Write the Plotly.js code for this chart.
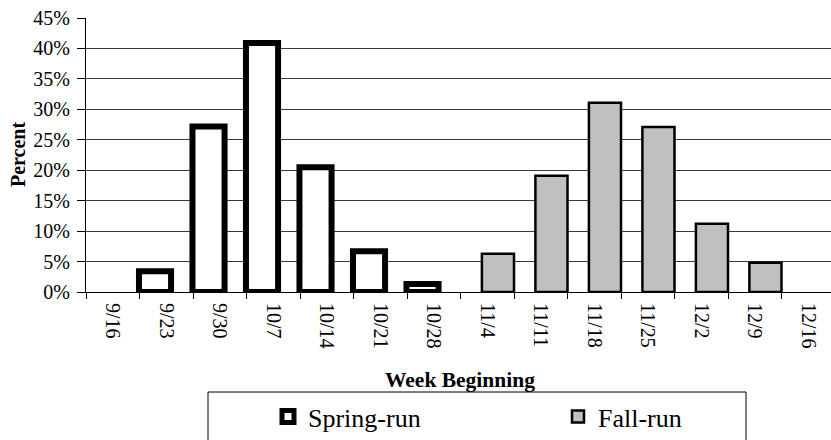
<!DOCTYPE html>
<html>
<head>
<meta charset="utf-8">
<script src="https://cdn.plot.ly/plotly-3.0.1.min.js"></script>
<style>
  html, body { margin: 0; padding: 0; background: #fff; }
  #chart { width: 831px; height: 440px; }
</style>
</head>
<body>
<div id="chart"></div>
<script>
const weeks = ["9/16", "9/23", "9/30", "10/7", "10/14", "10/21", "10/28", "11/4", "11/11", "11/18", "11/25", "12/2", "12/9", "12/16"];
const springRun = [null, 3.4, 27.2, 40.9, 20.5, 6.7, 1.3, null, null, null, null, null, null, null];
const fallRun = [null, null, null, null, null, null, null, 6.3, 19.1, 31.1, 27.1, 11.2, 4.8, null];
const yTicks = [0, 5, 10, 15, 20, 25, 30, 35, 40, 45];

const FONT = "Liberation Serif";

const traces = [
  {
    type: "bar", name: "Spring-run", x: weeks, y: springRun,
    width: 0.6, offset: -0.51,
    marker: { color: "#ffffff", line: { color: "#000000", width: 6 } },
    hoverinfo: "skip"
  },
  {
    type: "bar", name: "Fall-run", x: weeks, y: fallRun,
    width: 0.6, offset: -0.1,
    marker: { color: "#c0c0c0", line: { color: "#000000", width: 2.5 } },
    hoverinfo: "skip"
  }
];

const layout = {
  width: 831, height: 440,
  margin: { l: 86, r: 0, t: 18, b: 148, pad: 0, autoexpand: false },
  paper_bgcolor: "#ffffff", plot_bgcolor: "#ffffff",
  font: { family: FONT, size: 20, color: "#000" },
  barmode: "overlay",
  showlegend: true,
  legend: {
    orientation: "h",
    x: (268 - 86) / 745, xanchor: "left",
    y: (292 - 393) / 274, yanchor: "top",
    font: { family: FONT, size: 26, color: "#000" },
    bgcolor: "rgba(0,0,0,0)", borderwidth: 0,
    entrywidth: 245, entrywidthmode: "pixels",
    traceorder: "normal"
  },
  xaxis: {
    type: "category",
    categoryorder: "array", categoryarray: weeks,
    range: [-0.5, -0.5 + 745 / 53.5],
    tickangle: 90,
    tickson: "boundaries",
    ticks: "outside", ticklen: 6, tickcolor: "#000", tickwidth: 1,
    ticklabelstandoff: 6,
    showline: true, linecolor: "#000", linewidth: 1,
    showgrid: false, zeroline: false,
    tickfont: { family: FONT, size: 20, color: "#000" },
    fixedrange: true
  },
  yaxis: {
    range: [0, 45],
    tickvals: yTicks,
    ticktext: yTicks.map(v => v + "%"),
    ticks: "outside", ticklen: 8, tickcolor: "#000", tickwidth: 1,
    ticklabelstandoff: 3,
    showline: true, linecolor: "#000", linewidth: 1,
    showgrid: true, gridcolor: "#3a3a3a", gridwidth: 1,
    zeroline: false,
    tickfont: { family: FONT, size: 20, color: "#000" },
    fixedrange: true
  },
  annotations: [
    {
      text: "<b>Percent</b>", xref: "paper", yref: "paper",
      x: 0, xshift: -68, y: 0.5, xanchor: "center", yanchor: "middle",
      textangle: -90, showarrow: false,
      font: { family: FONT, size: 20, color: "#000" }
    },
    {
      text: "<b>Week Beginning</b>", xref: "paper", yref: "paper",
      x: (460 - 86) / 745, y: (292 - 380) / 274, xanchor: "center", yanchor: "middle",
      showarrow: false,
      font: { family: FONT, size: 21.5, color: "#000" }
    }
  ],
  shapes: [
    {
      type: "rect", xref: "paper", yref: "paper", layer: "above",
      x0: (208 - 86) / 745, x1: (746 - 86) / 745,
      y0: (292 - 392) / 274, y1: (292 - 470) / 274,
      line: { color: "#000", width: 1 }, fillcolor: "rgba(0,0,0,0)"
    }
  ]
};

Plotly.newPlot("chart", traces, layout, { displayModeBar: false, staticPlot: true });
</script>
</body>
</html>
